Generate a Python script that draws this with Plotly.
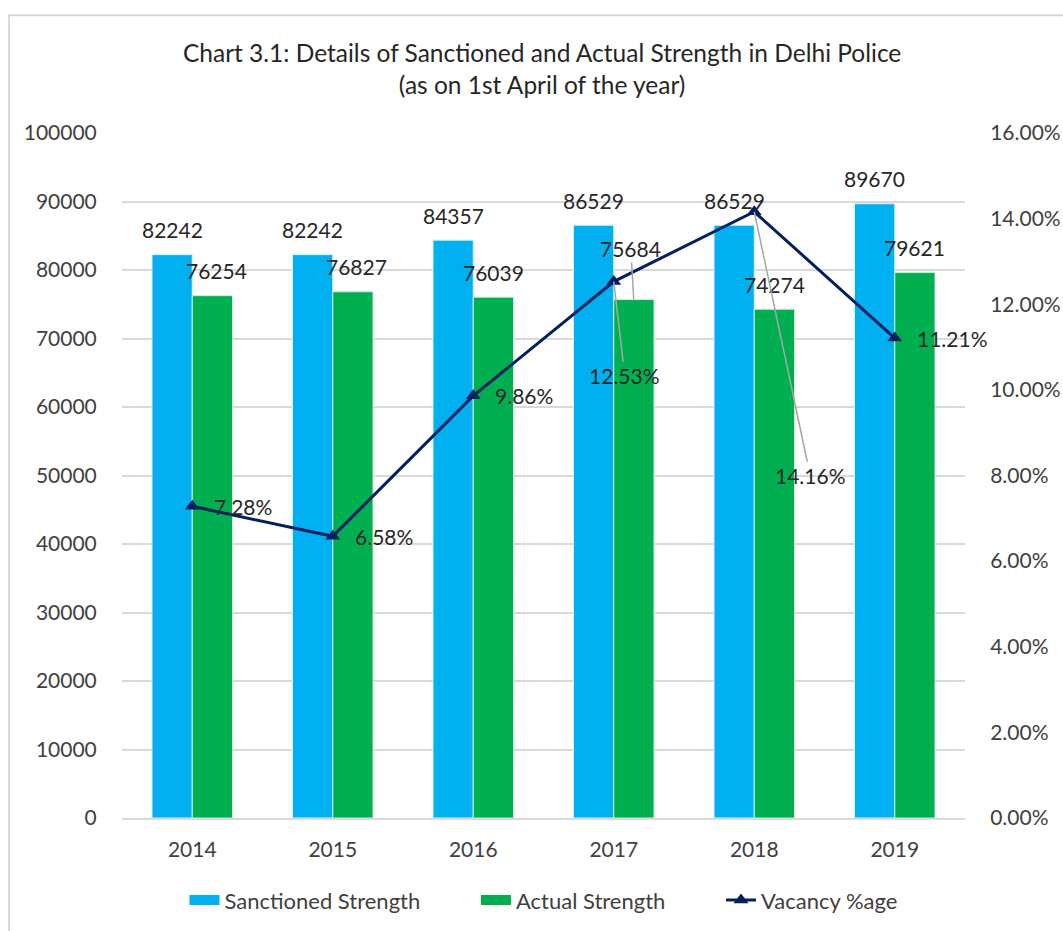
import plotly.graph_objects as go

years = ["2014", "2015", "2016", "2017", "2018", "2019"]
sanctioned = [82242, 82242, 84357, 86529, 86529, 89670]
actual = [76254, 76827, 76039, 75684, 74274, 79621]
vacancy = [0.0728, 0.0658, 0.0986, 0.1253, 0.1416, 0.1121]

FONT = "Lato"
BLUE = "#00B0F0"
GREEN = "#00B050"
NAVY = "#002060"
TXT = "#262626"
TICK = "#404040"
FS = 21
PAD = "\u00a0" * 9

fig = go.Figure()
fig.add_trace(go.Bar(x=years, y=sanctioned, name="Sanctioned Strength", showlegend=False,
                     marker=dict(color=BLUE, line=dict(color="#d6f0fb", width=1))))
fig.add_trace(go.Bar(x=years, y=actual, name="Actual Strength", showlegend=False,
                     marker=dict(color=GREEN, line=dict(color="#cdeed9", width=1))))
# legend-only entries with wide swatches like the reference
fig.add_trace(go.Scatter(x=[None], y=[None], name="Sanctioned Strength" + PAD, mode="lines",
                         line=dict(color=BLUE, width=14)))
fig.add_trace(go.Scatter(x=[None], y=[None], name="Actual Strength" + PAD, mode="lines",
                         line=dict(color=GREEN, width=14)))
fig.add_trace(go.Scatter(x=years, y=vacancy, name="Vacancy %age", yaxis="y2",
                         mode="lines+markers",
                         line=dict(color=NAVY, width=3),
                         marker=dict(symbol="triangle-up", size=13, color=NAVY)))

ann = []
lf = dict(family=FONT, size=FS, color=TXT)
# bar labels
for i in range(len(years)):
    ann.append(dict(x=i, y=sanctioned[i], xref="x", yref="y", text=str(sanctioned[i]),
                    showarrow=False, xshift=-20, yshift=25, yanchor="middle", font=lf))
    if i == 3:
        ann.append(dict(x=i, y=actual[i], xref="x", yref="y", text=str(actual[i]),
                        showarrow=True, arrowhead=0, arrowwidth=1.5, arrowcolor="#a6a6a6",
                        ax=-3, ay=-51, standoff=0, xshift=20, font=lf))
    else:
        ann.append(dict(x=i, y=actual[i], xref="x", yref="y", text=str(actual[i]),
                        showarrow=False, xshift=24 if i < 2 else 20, yshift=25,
                        yanchor="middle", font=lf))
# line labels
for i in range(len(years)):
    t = f"{vacancy[i]*100:.2f}%"
    if i == 3:
        ann.append(dict(x=i, y=vacancy[i], xref="x", yref="y2", text=t,
                        showarrow=True, arrowhead=0, arrowwidth=1.5, arrowcolor="#a6a6a6",
                        ax=11, ay=94, standoff=0, font=lf))
    elif i == 4:
        ann.append(dict(x=i, y=vacancy[i], xref="x", yref="y2", text=t,
                        showarrow=True, arrowhead=0, arrowwidth=1.5, arrowcolor="#a6a6a6",
                        ax=56, ay=264, standoff=0, font=lf))
    else:
        ann.append(dict(x=i, y=vacancy[i], xref="x", yref="y2", text=t,
                        showarrow=False, xanchor="left", xshift=20, yanchor="middle", font=lf))

fig.update_layout(
    width=1063, height=931,
    margin=dict(l=122, r=98, t=133, b=113, autoexpand=False),
    paper_bgcolor="white", plot_bgcolor="white",
    barmode="group", bargap=0.427, bargroupgap=0,
    title=dict(text="Chart 3.1: Details of Sanctioned and Actual Strength in Delhi Police<br>(as on 1st April of the year)",
               x=0.51, xanchor="center", y=0.933, yanchor="middle",
               font=dict(family=FONT, size=24.5, color=TXT)),
    font=dict(family=FONT, size=FS, color=TICK),
    xaxis=dict(type="category", range=[-0.5, 5.5], autorange=False,
               showgrid=False, showline=True, linecolor="#d9d9d9", linewidth=2,
               ticks="outside", ticklen=12, tickcolor="rgba(0,0,0,0)",
               tickfont=dict(family=FONT, size=FS, color=TICK)),
    yaxis=dict(range=[0, 100000], dtick=10000, tickformat="d", showgrid=True,
               gridcolor="#d9d9d9", gridwidth=1.5,
               zeroline=False, ticks="outside", ticklen=20, tickcolor="rgba(0,0,0,0)",
               tickfont=dict(family=FONT, size=FS, color=TICK)),
    yaxis2=dict(range=[0, 0.16], dtick=0.02, tickformat=".2%", overlaying="y", side="right",
                showgrid=False, zeroline=False, ticks="outside", ticklen=20,
                tickcolor="rgba(0,0,0,0)", tickfont=dict(family=FONT, size=FS, color=TICK)),
    legend=dict(orientation="h", x=0.5, xanchor="center", y=-0.12, yanchor="middle",
                font=dict(family=FONT, size=22, color=TICK), traceorder="normal"),
    annotations=ann,
    shapes=[dict(type="rect", xref="paper", yref="paper", x0=-0.134, x1=1.3, y0=-0.4, y1=1.172,
                 line=dict(color="#d9d9d9", width=2), fillcolor="rgba(0,0,0,0)", layer="below")],
)

fig.write_html("out.html")
